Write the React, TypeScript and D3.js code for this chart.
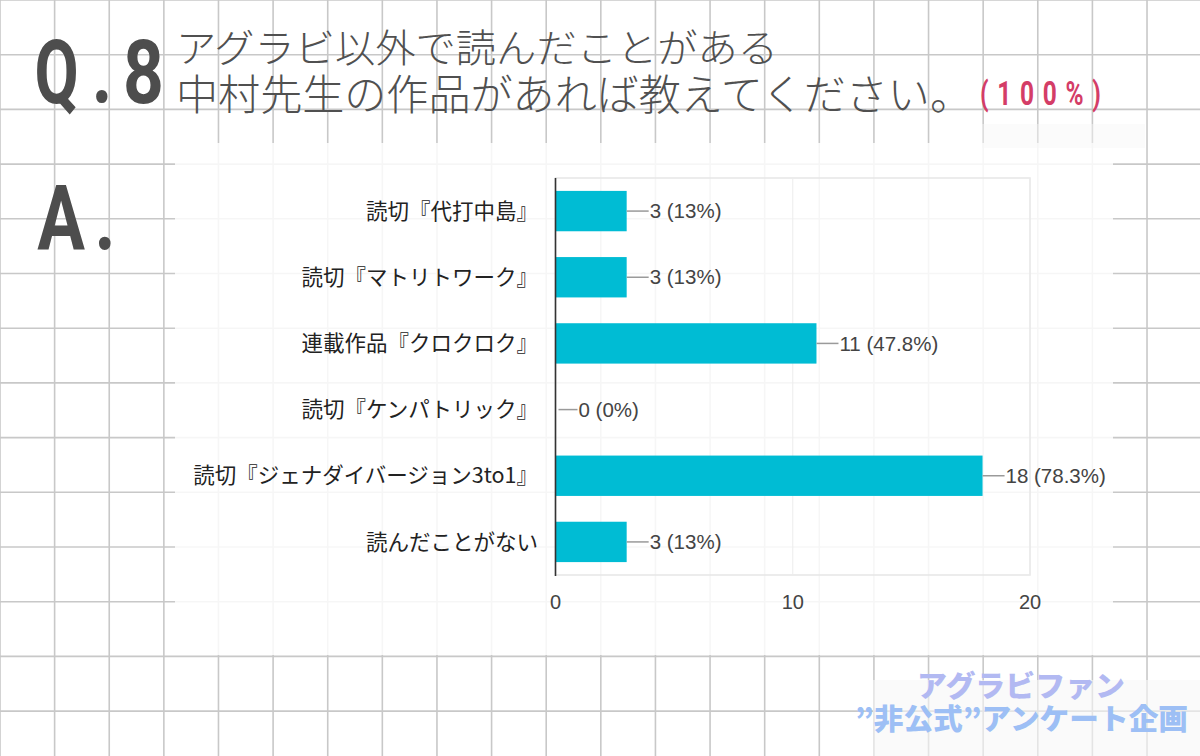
import React from "react";
import * as d3 from "d3";

const categories = [
  "読切『代打中島』",
  "読切『マトリトワーク』",
  "連載作品『クロクロク』",
  "読切『ケンパトリック』",
  "読切『ジェナダイバージョン3to1』",
  "読んだことがない",
];
const counts = [3, 3, 11, 0, 18, 3];
const percentLabels = ["13%", "13%", "47.8%", "0%", "78.3%", "13%"];
const xTicks = [0, 10, 20];

const titleLine1 = "アグラビ以外で読んだことがある";
const titleLine2 = "中村先生の作品があれば教えてください。";
const rateLabel = "(100%)";
const wmLine1 = "アグラビファン";
const wmLine2 = "”非公式”アンケート企画";

const W = 1200;
const H = 756;
const GRID = 54.62;

export default function App() {
  const x = d3.scaleLinear().domain([0, 20]).range([555.5, 1030]);
  const y = d3
    .scaleBand<string>()
    .domain(categories)
    .range([178, 575])
    .paddingInner(0.39)
    .paddingOuter(0.195);

  const vLines = d3.range(0, Math.ceil(W / GRID) + 1).map((k) => k * GRID);
  const hLines = d3.range(0, Math.ceil(H / GRID) + 1).map((k) => k * 54.7);

  const jp = "'Noto Sans CJK JP', 'Noto Sans', sans-serif";
  const latin = "'Liberation Sans', Arial, sans-serif";
  const head = "Roboto, 'DejaVu Sans', sans-serif";

  return (
    <svg
      width={W}
      height={H}
      viewBox={`0 0 ${W} ${H}`}
      style={{ position: "absolute", left: 0, top: 0, background: "#fff" }}
    >
      {/* graph paper */}
      <g stroke="#c8c8c8" strokeWidth={1.6}>
        {vLines.map((v, i) => (
          <line key={"v" + i} x1={v} x2={v} y1={0} y2={H} />
        ))}
        {hLines.map((v, i) => (
          <line key={"h" + i} x1={0} x2={W} y1={v} y2={v} />
        ))}
      </g>

      {/* pasted chart panel */}
      <rect x={175} y={143} width={938} height={512} fill="#ffffff" opacity={0.84} />
      <rect x={982} y={124} width={163} height={24} fill="#f6f6f6" opacity={0.45} />

      {/* title */}
      <g fill="#4d4d4d" fontFamily={head} fontWeight={700} fontSize={89}>
        <text transform="translate(56.5,103) scale(0.72,1)" textAnchor="middle">Q</text>
        <text transform="translate(102,103) scale(0.8,1)" textAnchor="middle">.</text>
        <text transform="translate(143.5,103) scale(0.8,1)" textAnchor="middle">8</text>
        <text transform="translate(61,250) scale(0.78,1)" textAnchor="middle" fontSize={91}>A</text>
        <text transform="translate(105,250) scale(0.8,1)" textAnchor="middle" fontSize={91}>.</text>
      </g>
      <g fill="#505050" fontFamily={jp} fontWeight={300}>
        <text x={176} y={62} fontSize={39} textLength={602} lengthAdjust="spacingAndGlyphs">
          {titleLine1}
        </text>
        <text x={176} y={110} fontSize={42} textLength={796} lengthAdjust="spacingAndGlyphs">
          {titleLine2}
        </text>
      </g>
      <text
        transform="translate(980,105) scale(0.72,1)"
        fill="#d43d67"
        fontFamily={head}
        fontWeight={700}
        fontSize={34}
        textLength={168}
        lengthAdjust="spacing"
      >
        {rateLabel}
      </text>

      {/* plot area frame */}
      <rect x={555.5} y={178} width={474.5} height={397} fill="none" stroke="#e6e6e6" strokeWidth={1.5} />
      {xTicks.slice(1).map((t) => (
        <line key={"g" + t} x1={x(t)} x2={x(t)} y1={178} y2={575} stroke="#ececec" strokeWidth={1} />
      ))}

      {/* bars */}
      {categories.map((c, i) => {
        const y0 = y(c)!;
        const bw = y.bandwidth();
        const xe = x(counts[i]);
        const cy = y0 + bw / 2;
        return (
          <g key={c}>
            {counts[i] > 0 && (
              <rect x={x(0)} y={y0} width={xe - x(0)} height={bw} fill="#00bcd4" />
            )}
            <line
              x1={counts[i] > 0 ? xe : xe + 3}
              x2={xe + 22}
              y1={cy}
              y2={cy}
              stroke="#9a9a9a"
              strokeWidth={1.5}
            />
            <text
              x={xe + 23}
              y={cy}
              dy="0.35em"
              fontFamily={latin}
              fontSize={20.5}
              fill="#444"
            >
              {`${counts[i]} (${percentLabels[i]})`}
            </text>
            <text
              x={538}
              y={cy}
              dy="0.36em"
              textAnchor="end"
              fontFamily={jp}
              fontSize={21.5}
              fill="#222"
            >
              {c}
            </text>
          </g>
        );
      })}

      {/* axis */}
      <line x1={555.5} x2={555.5} y1={178} y2={576} stroke="#333" strokeWidth={1.6} />
      {xTicks.map((t) => (
        <text
          key={"t" + t}
          x={x(t)}
          y={609}
          textAnchor="middle"
          fontFamily={latin}
          fontSize={20}
          fill="#444"
        >
          {t}
        </text>
      ))}

      {/* watermark */}
      <rect x={873} y={680} width={327} height={76} fill="#f7f7f7" opacity={0.6} />
      <text
        x={917}
        y={697}
        fontFamily={jp}
        fontWeight={900}
        fontSize={29}
        fill="#b2b9f2"
        textLength={208}
        lengthAdjust="spacingAndGlyphs"
      >
        {wmLine1}
      </text>
      <text
        x={855}
        y={730}
        fontFamily={jp}
        fontWeight={900}
        fontSize={29}
        fill="#9dbff5"
        textLength={333}
        lengthAdjust="spacingAndGlyphs"
      >
        {wmLine2}
      </text>
    </svg>
  );
}
